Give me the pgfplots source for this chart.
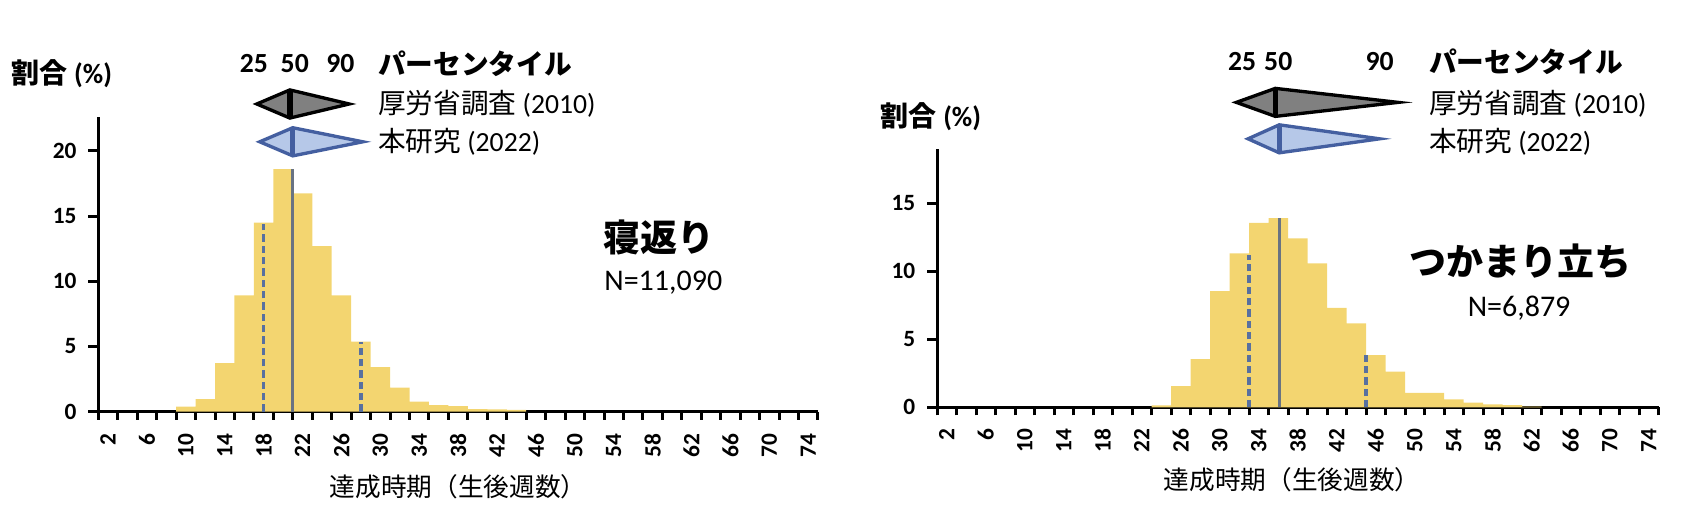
\documentclass[border=0pt]{standalone}
\usepackage{pgfplots}
\pgfplotsset{compat=1.18}
\usepackage{fontspec}
\setmainfont{Carlito}
\newfontfamily\jp{Noto Sans CJK JP}

\definecolor{barY}{RGB}{243,213,112}
\definecolor{medC}{RGB}{105,115,130}
\definecolor{dashC}{RGB}{88,112,160}
\definecolor{kiteGray}{RGB}{128,128,128}
\definecolor{kiteBlue}{RGB}{182,200,232}
\definecolor{kiteBlueD}{RGB}{68,95,160}

\pgfplotsset{
  hist/.style={
    scale only axis, clip=false,
    xmin=1, xmax=75, ymin=0,
    axis lines*=left,
    axis line style={black, line width=0.9pt},
    xtick={2,6,...,74},
    minor xtick={1,3,...,75},
    major x tick style={draw=none},
    minor x tick style={black, line width=0.9pt},
    minor tick length=2.4pt,
    major tick length=3pt,
    ytick style={black, line width=0.9pt},
    tick align=outside,
    xticklabel style={rotate=90, anchor=east, font=\fontsize{7}{8}\selectfont\bfseries},
    yticklabel style={font=\fontsize{7}{8}\selectfont\bfseries},
    /pgf/number format/assume math mode=true,
  },
  bars/.style={ybar, bar width=2, bar shift=0pt, fill=barY, draw=none},
  medline/.style={medC, line width=1pt},
  pline/.style={dashC, line width=1pt, dash pattern=on 2.2pt off 1.2pt},
}
\newcommand\lgfont{\fontsize{8.3}{9}\selectfont}

\begin{document}
\begin{tikzpicture}
\useasboundingbox (0pt,0pt) rectangle (510pt,157.2pt);

% 寝返り
\begin{axis}[hist, at={(29.49pt,33.69pt)}, anchor=south west,
  width=215.9pt, height=88.4pt, ymax=22.6, ytick={0,5,10,15,20}]
  \addplot[bars] coordinates {
    (10,0.38) (12,0.97) (14,3.72) (16,8.92) (18,14.5) (20,18.6) (22,16.75)
    (24,12.7) (26,8.92) (28,5.38) (30,3.41) (32,1.85) (34,0.77) (36,0.51)
    (38,0.42) (40,0.2) (42,0.18) (44,0.13)};
  \addplot[pline] coordinates {(18,0) (18,14.4)};
  \addplot[medline] coordinates {(21,0) (21,18.6)};
  \addplot[pline] coordinates {(28,0) (28,5.38)};
  % percentile kites: 25, 50, 90
  \addplot[fill=kiteGray, draw=black, line width=1pt] coordinates
    {(17.3,23.6) (20.7,24.68) (26.8,23.6) (20.7,22.52)} -- cycle;
  \addplot[black, line width=1.6pt] coordinates {(20.7,24.68) (20.7,22.52)};
  \addplot[fill=kiteBlue, draw=kiteBlueD, line width=1pt] coordinates
    {(17.6,20.7) (21,21.78) (28.2,20.7) (21,19.62)} -- cycle;
  \addplot[kiteBlueD, line width=1.6pt] coordinates {(21,21.78) (21,19.62)};
  \node[font=\lgfont\bfseries] at (axis cs:17.0,26.7) {25};
  \node[font=\lgfont\bfseries] at (axis cs:21.2,26.7) {50};
  \node[font=\lgfont\bfseries] at (axis cs:25.9,26.7) {90};
  \node[font=\lgfont\bfseries\jp, anchor=west, inner sep=0pt] at (axis cs:29.7,26.7) {パーセンタイル};
  \node[font=\lgfont, anchor=west, inner sep=0pt] at (axis cs:29.7,23.6) {{\jp 厚労省調査} (2010)};
  \node[font=\lgfont, anchor=west, inner sep=0pt] at (axis cs:29.7,20.7) {{\jp 本研究} (2022)};
  \node[font=\fontsize{11.1}{12}\selectfont\bfseries\jp] at (axis cs:58.65,13.36) {寝返り};
  \node[font=\fontsize{9}{10}\selectfont] at (axis cs:59.1,9.9) {N=11,090};
\end{axis}

% つかまり立ち
\begin{axis}[hist, at={(281.1pt,34.99pt)}, anchor=south west,
  width=216.45pt, height=77.5pt, ymax=19, ytick={0,5,10,15}]
  \addplot[bars] coordinates {
    (24,0.15) (26,1.57) (28,3.55) (30,8.55) (32,11.32) (34,13.57) (36,13.92)
    (38,12.42) (40,10.59) (42,7.32) (44,6.18) (46,3.85) (48,2.62) (50,1.07)
    (52,1.07) (54,0.59) (56,0.34) (58,0.22) (60,0.17) (62,0.05)};
  \addplot[pline] coordinates {(33,0) (33,11.2)};
  \addplot[medline] coordinates {(36.1,0) (36.1,13.9)};
  \addplot[pline] coordinates {(45,0) (45,3.85)};
  \addplot[fill=kiteGray, draw=black, line width=1pt] coordinates
    {(31.7,22.43) (35.7,23.46) (48.3,22.43) (35.7,21.4)} -- cycle;
  \addplot[black, line width=1.6pt] coordinates {(35.7,23.46) (35.7,21.4)};
  \addplot[fill=kiteBlue, draw=kiteBlueD, line width=1pt] coordinates
    {(32.9,19.75) (36.1,20.78) (46.4,19.75) (36.1,18.72)} -- cycle;
  \addplot[kiteBlueD, line width=1.6pt] coordinates {(36.1,20.78) (36.1,18.72)};
  \node[font=\lgfont\bfseries] at (axis cs:32.3,25.4) {25};
  \node[font=\lgfont\bfseries] at (axis cs:36.0,25.4) {50};
  \node[font=\lgfont\bfseries] at (axis cs:46.4,25.4) {90};
  \node[font=\lgfont\bfseries\jp, anchor=west, inner sep=0pt] at (axis cs:51.4,25.4) {パーセンタイル};
  \node[font=\lgfont, anchor=west, inner sep=0pt] at (axis cs:51.4,22.34) {{\jp 厚労省調査} (2010)};
  \node[font=\lgfont, anchor=west, inner sep=0pt] at (axis cs:51.4,19.53) {{\jp 本研究} (2022)};
  \node[font=\fontsize{11.1}{12}\selectfont\bfseries\jp] at (axis cs:60.8,10.7) {つかまり立ち};
  \node[font=\fontsize{9}{10}\selectfont] at (axis cs:60.7,7.3) {N=6,879};
\end{axis}

\node[font=\fontsize{8.4}{9}\selectfont\bfseries] at (18.6pt,135.0pt) {{\jp 割合} (\%)};
\node[font=\fontsize{8.4}{9}\selectfont\bfseries] at (279.3pt,122.2pt) {{\jp 割合} (\%)};
\node[font=\fontsize{7.7}{8}\selectfont\jp] at (137.4pt,11.1pt) {達成時期（生後週数）};
\node[font=\fontsize{7.7}{8}\selectfont\jp] at (387.6pt,13.2pt) {達成時期（生後週数）};
\end{tikzpicture}
\end{document}
